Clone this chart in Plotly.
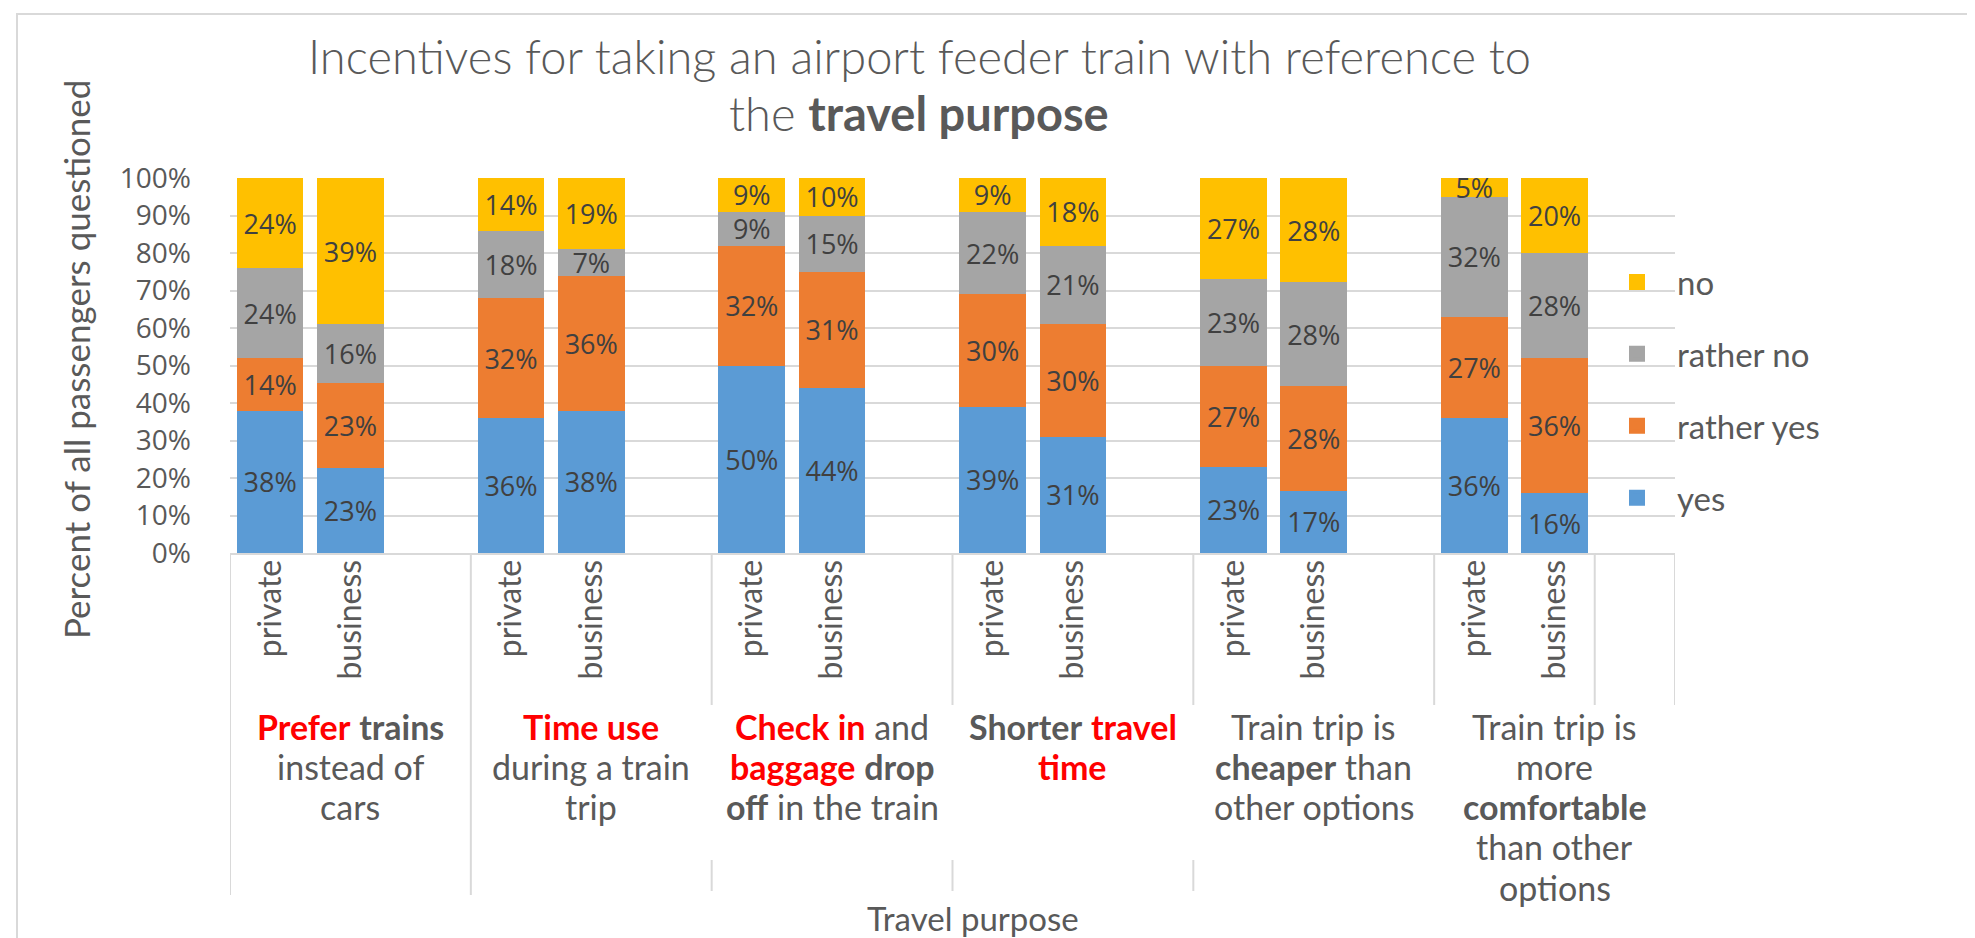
import plotly.graph_objects as go

# ---------------- data ----------------
travel_purposes = ["private", "business"]
series_names = ["yes", "rather yes", "rather no", "no"]
series_colors = ["#5B9BD5", "#ED7D31", "#A5A5A5", "#FFC000"]
legend_rank = [4, 3, 2, 1]

# order of bars: (group1 private, group1 business, group2 private, ...)
yes        = [38, 22.6, 36, 38, 50, 44, 39, 31, 23, 16.6, 36, 16]
rather_yes = [14, 22.8, 32, 36, 32, 31, 30, 30, 27, 28.0, 27, 36]
rather_no  = [24, 15.6, 18,  7,  9, 15, 22, 21, 23, 27.6, 32, 28]
no         = [24, 39.0, 14, 19,  9, 10,  9, 18, 27, 27.8,  5, 20]

y_ticks = list(range(0, 101, 10))
y_tick_text = [f"{v}%" for v in y_ticks]

RED = "<span style='color:#FF0000'><b>{}</b></span>"
BOLD = "<b>{}</b>"
category_lines = [
    [RED.format("Prefer") + " " + BOLD.format("trains"), "instead of", "cars"],
    [RED.format("Time use"), "during a train", "trip"],
    [RED.format("Check in") + " and", RED.format("baggage") + " " + BOLD.format("drop"),
     BOLD.format("off") + " in the train"],
    [BOLD.format("Shorter") + " " + RED.format("travel"), RED.format("time")],
    ["Train trip is", BOLD.format("cheaper") + " than", "other options"],
    ["Train trip is", "more", BOLD.format("comfortable"), "than other", "options"],
]

title_lines = ["Incentives for taking an airport feeder train with reference to",
               "the <b>travel purpose</b>"]
y_title = "Percent of all passengers questioned"
x_title = "Travel purpose"

# ---------------- layout geometry (pixels) ----------------
W, H = 1975, 938
PL, PR, PT, PB = 222, 1667, 170, 545
SLOTS = 18
GRAY = "#595959"
GRID = "#D9D9D9"


def px_x(p):
    return (p - PL) / (PR - PL)


def px_y(p):
    return (PB - p) / (PB - PT)


n_groups = len(category_lines)
x_pos = [g * 3 + s + 0.5 for g in range(n_groups) for s in range(len(travel_purposes))]
tick_text = travel_purposes * n_groups

fig = go.Figure()
for name, vals, col in zip(series_names, [yes, rather_yes, rather_no, no], series_colors):
    fig.add_trace(go.Bar(
        x=x_pos, y=vals, name=name, width=0.83,
        marker=dict(color=col, line=dict(width=0)),
        texttemplate="%{y:.0f}%", textposition="inside", insidetextanchor="middle",
        textangle=0, textfont=dict(family="Open Sans", size=27, color="#404040"),
        legendgroup=name, showlegend=False, hoverinfo="skip",
    ))
# legend entries (larger square keys, as in the reference)
for name, col, rk in zip(series_names, series_colors, legend_rank):
    fig.add_trace(go.Bar(
        x=[None], y=[None], name=name,
        marker=dict(color=col, line=dict(color=col, width=4)),
        legendgroup=name, legendrank=rk, showlegend=True, hoverinfo="skip",
    ))

shapes = []
# category dividers
full = [0, 3]
split = [6, 9, 12]
top_only = [15, 17, 18]
line_style = dict(color=GRID, width=2)
for xv in full:
    shapes.append(dict(type="line", xref="x", yref="paper", x0=xv, x1=xv,
                       y0=px_y(PB), y1=px_y(887), line=line_style))
for xv in split:
    shapes.append(dict(type="line", xref="x", yref="paper", x0=xv, x1=xv,
                       y0=px_y(PB), y1=px_y(697), line=line_style))
    shapes.append(dict(type="line", xref="x", yref="paper", x0=xv, x1=xv,
                       y0=px_y(852), y1=px_y(883), line=line_style))
for xv in top_only:
    shapes.append(dict(type="line", xref="x", yref="paper", x0=xv, x1=xv,
                       y0=px_y(PB), y1=px_y(697), line=line_style))
# outer chart border
shapes.append(dict(type="rect", xref="paper", yref="paper",
                   x0=px_x(9), x1=px_x(1971), y0=px_y(970), y1=px_y(6),
                   line=dict(color=GRID, width=2), layer="below"))

annotations = []
for g, lines in enumerate(category_lines):
    for i, ln in enumerate(lines):
        annotations.append(dict(
            text=ln, x=g * 3 + 1.5, xref="x", y=px_y(718 + i * 40.3), yref="paper",
            xanchor="center", yanchor="middle", showarrow=False,
            font=dict(family="Lato", size=34, color=GRAY),
        ))
for i, ln in enumerate(title_lines):
    annotations.append(dict(
        text=ln, x=px_x(911), y=px_y(18 + i * 57), xref="paper", yref="paper",
        showarrow=False, xanchor="center", yanchor="top",
        font=dict(family="Lato", size=47, color=GRAY, weight=300),
    ))
annotations.append(dict(
    text=y_title, x=px_x(68), y=px_y(352), xref="paper", yref="paper",
    textangle=-90, showarrow=False, xanchor="center", yanchor="middle",
    font=dict(family="Lato", size=35, color=GRAY),
))
annotations.append(dict(
    text=x_title, x=px_x(965), y=px_y(910), xref="paper", yref="paper",
    showarrow=False, xanchor="center", yanchor="middle",
    font=dict(family="Lato", size=33, color=GRAY),
))

fig.update_layout(
    width=W, height=H,
    margin=dict(l=PL, r=W - PR, t=PT, b=H - PB, pad=0),
    paper_bgcolor="white", plot_bgcolor="white",
    barmode="stack",
    xaxis=dict(range=[0, SLOTS], tickvals=x_pos, ticktext=tick_text, tickangle=-90,
               showgrid=False, zeroline=False, showline=True, linecolor=GRID, linewidth=2,
               ticks="", ticklabelstandoff=-8,
               tickfont=dict(family="Lato", size=32, color=GRAY)),
    yaxis=dict(range=[0, 100], tickvals=y_ticks, ticktext=y_tick_text,
               showgrid=True, gridcolor=GRID, gridwidth=2, zeroline=False,
               showline=False, ticks="", ticklabelstandoff=38,
               tickfont=dict(family="Open Sans", size=28, color=GRAY)),
    legend=dict(x=px_x(1589), y=px_y(246), xanchor="left", yanchor="top",
                traceorder="grouped", tracegroupgap=26, itemwidth=70,
                bgcolor="rgba(0,0,0,0)",
                font=dict(family="Lato", size=33, color=GRAY)),
    uniformtext=dict(minsize=27, mode="show"),
    shapes=shapes, annotations=annotations,
)

fig.write_html("out.html")
